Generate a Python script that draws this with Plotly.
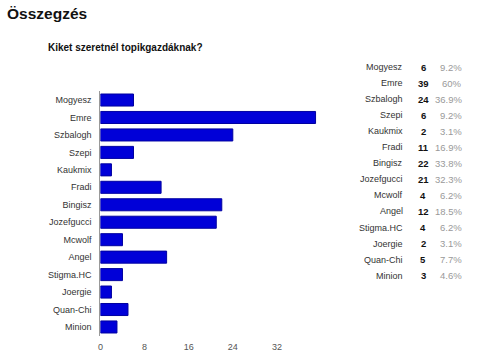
import plotly.graph_objects as go

names = ["Mogyesz", "Emre", "Szbalogh", "Szepi", "Kaukmix", "Fradi", "Bingisz",
         "Jozefgucci", "Mcwolf", "Angel", "Stigma.HC", "Joergie", "Quan-Chi", "Minion"]
votes = [6, 39, 24, 6, 2, 11, 22, 21, 4, 12, 4, 2, 5, 3]
pcts = ["9.2%", "60%", "36.9%", "9.2%", "3.1%", "16.9%", "33.8%", "32.3%",
        "6.2%", "18.5%", "6.2%", "3.1%", "7.7%", "4.6%"]
xticks = [0, 8, 16, 24, 32]

W, H = 500, 359
FONT = "Liberation Sans, Arial, sans-serif"

fig = go.Figure()
fig.add_trace(go.Bar(
    x=votes, y=names, orientation="h",
    marker=dict(color="#0000d8", line=dict(color="#0000a0", width=1)),
    hoverinfo="x+y",
))

def py(y):
    return 1 - y / H

def px(x):
    return x / W

annotations = [
    dict(text="<b>Összegzés</b>", x=px(2), y=py(14), xref="paper", yref="paper",
         xanchor="left", yanchor="middle", showarrow=False,
         font=dict(family=FONT, size=15.5, color="#111")),
    dict(text="<b>Kiket szeretnél topikgazdáknak?</b>", x=px(43), y=py(48),
         xref="paper", yref="paper", xanchor="left", yanchor="middle",
         showarrow=False, font=dict(family=FONT, size=10, color="#111")),
]

row0, step = 67, 16.05
for i, (n, v, p) in enumerate(zip(names, votes, pcts)):
    yy = py(row0 + i * step)
    annotations.append(dict(text=n, x=px(404), y=yy, xref="paper", yref="paper",
                            xanchor="right", yanchor="middle", showarrow=False,
                            font=dict(family=FONT, size=9, color="#333")))
    annotations.append(dict(text=f"<b>{v}</b>", x=px(423), y=yy, xref="paper", yref="paper",
                            xanchor="center", yanchor="middle", showarrow=False,
                            font=dict(family=FONT, size=9.5, color="#111")))
    annotations.append(dict(text=p, x=px(464), y=yy, xref="paper", yref="paper",
                            xanchor="right", yanchor="middle", showarrow=False,
                            font=dict(family=FONT, size=9.5, color="#999")))

top, bottom = 91.3, 335.7
fig.update_layout(
    width=W, height=H,
    margin=dict(l=0, r=0, t=0, b=0),
    paper_bgcolor="white", plot_bgcolor="white",
    showlegend=False,
    bargap=0.31,
    font=dict(family=FONT, size=9, color="#444"),
    annotations=annotations,
    xaxis=dict(domain=[px(98), px(320)], range=[0, 40], tickvals=xticks,
               showgrid=False, zeroline=False, showline=False,
               ticks="", ticklabelstandoff=4,
               tickfont=dict(family=FONT, size=9, color="#555")),
    yaxis=dict(domain=[py(bottom), py(top)], autorange="reversed",
               showgrid=False, zeroline=False, showline=True, linecolor="#999",
               linewidth=1, ticks="", ticklabelstandoff=6,
               tickfont=dict(family=FONT, size=9, color="#333")),
)

fig.write_html("out.html", config={"displayModeBar": False},
               post_script="document.body.style.margin='0';document.body.style.overflow='hidden';")
